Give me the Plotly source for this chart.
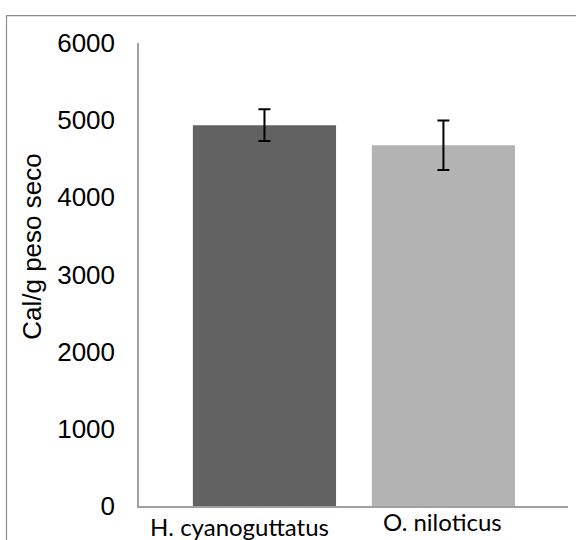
import plotly.graph_objects as go

# ---- data ----
categories = ["H. cyanoguttatus", "O. niloticus"]
values = [4935, 4675]
errors = [205, 322]
y_ticks = [0, 1000, 2000, 3000, 4000, 5000, 6000]
y_title = "Cal/g peso seco"

# ---- style ----
bar_colors = ["#626262", "#b3b3b3"]
label_xshift = [-25, -1]
label_yshift = [-20, -15]

W, H = 576, 540
ML, MR, MT, MB = 139, 8, 43, 33.5
pw = W - ML - MR
ph = H - MT - MB

fig = go.Figure()
fig.add_trace(go.Bar(
    x=list(range(len(categories))),
    y=values,
    width=0.8,
    marker=dict(color=bar_colors, line=dict(width=0)),
    error_y=dict(type="data", array=errors, visible=True,
                 color="#000000", thickness=2, width=6),
    showlegend=False,
))

for i, c in enumerate(categories):
    fig.add_annotation(
        x=i, y=0, xref="x", yref="paper", text=c, showarrow=False,
        xanchor="center", yanchor="middle",
        xshift=label_xshift[i], yshift=label_yshift[i],
        font=dict(family="Lato, Open Sans, sans-serif", size=24, color="#000000"),
    )

# y-axis title (placed as in reference, slightly above plot center)
fig.add_annotation(
    x=(32 - ML) / pw, y=(H - MB - 247) / ph, xref="paper", yref="paper",
    text=y_title, textangle=-90, showarrow=False,
    xanchor="center", yanchor="middle",
    font=dict(family="Liberation Sans, Arial, sans-serif", size=26, color="#000000"),
)

# outer chart border (extends beyond visible area right/bottom)
fig.add_shape(
    type="rect", xref="paper", yref="paper",
    x0=(6.5 - ML) / pw, x1=1.2,
    y0=-0.3, y1=(H - MB - 15.5) / ph,
    line=dict(color="#8c8c8c", width=1.2), fillcolor="rgba(0,0,0,0)",
    layer="below",
)

fig.update_layout(
    width=W, height=H,
    margin=dict(l=ML, r=MR, t=MT, b=MB, pad=0),
    paper_bgcolor="white", plot_bgcolor="white",
    font=dict(family="Liberation Sans, Arial, sans-serif", size=26, color="#000000"),
    xaxis=dict(
        range=[-0.701, 1.696], showticklabels=False, showgrid=False,
        zeroline=False, showline=True, linecolor="#a0a0a0", linewidth=2,
        ticks="", fixedrange=True,
    ),
    yaxis=dict(
        range=[0, 6000], tickvals=y_ticks, ticktext=[str(t) for t in y_ticks],
        showgrid=False, zeroline=False, showline=True, linecolor="#a0a0a0",
        linewidth=1.5, ticks="", ticklabelstandoff=17,
        tickfont=dict(family="Liberation Sans, Arial, sans-serif", size=26),
    ),
    bargap=0.2,
)

fig.write_html("out.html")
